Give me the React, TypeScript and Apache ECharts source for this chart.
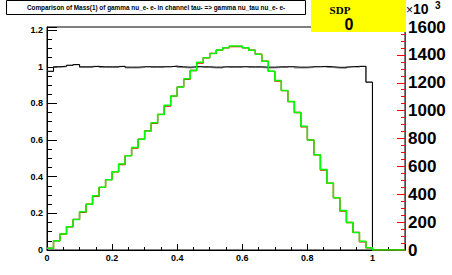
import React, { useEffect, useRef } from "react";
import * as echarts from "echarts";

// Histogram bin width and x range
const BIN_WIDTH = 0.02;
const X_MAX = 1.1;

// Ratio histogram (black) and its overlapping companion (gray), left axis units
const blackValues = [
  0.975, 1.0, 1.003, 1.008, 1.012, 1.0, 1.0, 1.002, 1.0, 1.0,
  1.0, 1.002, 0.998, 0.998, 1.0, 1.0, 1.0, 1.0, 1.0, 1.003,
  1.0, 0.998, 1.0, 1.0, 1.0, 0.998, 0.998, 1.0, 1.0, 1.0,
  1.0, 1.0, 1.0, 0.998, 0.998, 1.0, 1.0, 1.0, 0.998, 0.998,
  1.0, 1.0, 1.002, 1.0, 0.997, 0.997, 1.0, 1.002, 1.002, 0.916,
];
const grayValues = [
  0.975, 0.998, 1.0, 1.008, 1.012, 0.996, 0.996, 1.002, 0.996, 0.996,
  0.996, 1.002, 0.994, 0.994, 0.996, 1.0, 0.996, 0.996, 1.0, 1.003,
  0.996, 0.994, 0.996, 1.0, 0.996, 0.994, 0.994, 1.0, 0.996, 0.996,
  1.0, 0.996, 0.996, 0.994, 0.994, 0.996, 0.996, 1.0, 0.994, 0.994,
  0.996, 1.0, 1.0, 0.996, 0.993, 0.993, 1.0, 0.998, 1.002, 0.916,
];

// Mass distributions (scaled to left axis): green on top of red
const greenValues = [
  0.01, 0.05, 0.087, 0.127, 0.167, 0.209, 0.25, 0.296, 0.342, 0.384,
  0.427, 0.47, 0.515, 0.56, 0.605, 0.65, 0.695, 0.74, 0.79, 0.84,
  0.89, 0.935, 0.98, 1.024, 1.049, 1.073, 1.091, 1.104, 1.113, 1.112,
  1.104, 1.09, 1.068, 1.03, 0.975, 0.925, 0.87, 0.81, 0.75, 0.675,
  0.6, 0.52, 0.44, 0.364, 0.285, 0.215, 0.15, 0.096, 0.048, 0.012,
];
const redValues = [
  0.01, 0.05, 0.087, 0.127, 0.167, 0.206, 0.25, 0.293, 0.342, 0.384,
  0.427, 0.467, 0.515, 0.556, 0.605, 0.65, 0.692, 0.74, 0.786, 0.84,
  0.89, 0.932, 0.98, 1.02, 1.049, 1.073, 1.091, 1.104, 1.11, 1.112,
  1.104, 1.09, 1.068, 1.03, 0.975, 0.922, 0.87, 0.81, 0.75, 0.672,
  0.6, 0.52, 0.437, 0.364, 0.285, 0.212, 0.15, 0.096, 0.045, 0.012,
];

// Axis ticks
const leftMax = 1.217;
const leftInterval = 0.2;
const rightMax = 1600;
const rightInterval = 200;

const TITLE = "Comparison of Mass(1) of gamma nu_e- e- in channel tau- => gamma nu_tau nu_e- e-";
const BOX_LABEL = "SDP";
const BOX_VALUE = "0";

function histPoints(values: number[]): number[][] {
  const nBins = Math.round(X_MAX / BIN_WIDTH);
  const pts: number[][] = [];
  for (let i = 0; i < nBins; i++) {
    const v = i < values.length ? values[i] : 0;
    const x0 = +(i * BIN_WIDTH).toFixed(4);
    const x1 = +((i + 1) * BIN_WIDTH).toFixed(4);
    pts.push([x0, v], [x1, v]);
  }
  return pts;
}

const FONT = "Liberation Sans, Arial, Helvetica, sans-serif";

const fmtTenth = (v: number) => {
  const r = Math.round(v / 0.2);
  if (Math.abs(v - r * 0.2) > 1e-6) return "";
  return String(+v.toFixed(1));
};

export default function App() {
  const ref = useRef<HTMLDivElement>(null);
  useEffect(() => {
    if (!ref.current) return;
    const chart = echarts.init(ref.current, undefined, { renderer: "svg" });
    const lineSeries = (name: string, vals: number[], color: string, width: number, z: number) => ({
      name,
      type: "line",
      data: histPoints(vals),
      showSymbol: false,
      symbol: "none",
      lineStyle: { color, width },
      z,
      silent: true,
    });
    chart.setOption({
      animation: false,
      backgroundColor: "#ffffff",
      grid: {
        left: 47,
        right: 47,
        top: 27,
        bottom: 25,
        show: true,
        borderColor: "#000",
        borderWidth: 1,
        backgroundColor: "transparent",
      },
      xAxis: {
        type: "value",
        min: 0,
        max: X_MAX,
        interval: 0.2,
        axisLine: { show: true, lineStyle: { color: "#000", width: 1 } },
        axisTick: { show: true, inside: true, length: 6, lineStyle: { color: "#000" } },
        minorTick: { show: true, splitNumber: 4, length: 3, lineStyle: { color: "#000" } },
        splitLine: { show: false },
        minorSplitLine: { show: false },
        axisLabel: {
          color: "#000",
          fontFamily: FONT,
          fontWeight: "bold",
          fontSize: 9,
          margin: 3,
          formatter: fmtTenth,
        },
      },
      yAxis: [
        {
          type: "value",
          min: 0,
          max: leftMax,
          interval: leftInterval,
          position: "left",
          axisLine: { show: true, lineStyle: { color: "#000" } },
          axisTick: { show: true, inside: true, length: 10, lineStyle: { color: "#000" } },
          minorTick: { show: true, splitNumber: 4, length: 5, lineStyle: { color: "#000" } },
          splitLine: { show: false },
          axisLabel: {
            color: "#000",
            fontFamily: FONT,
            fontWeight: "bold",
            fontSize: 9,
            margin: 4,
            formatter: fmtTenth,
          },
        },
        {
          type: "value",
          min: 0,
          max: rightMax,
          interval: rightInterval,
          position: "right",
          alignTicks: false,
          axisLine: { show: true, lineStyle: { color: "#ff0000" } },
          axisTick: { show: true, inside: true, length: 8, lineStyle: { color: "#ff0000" } },
          minorTick: { show: true, splitNumber: 4, length: 4, lineStyle: { color: "#ff0000" } },
          splitLine: { show: false },
          axisLabel: {
            color: "#000",
            fontFamily: FONT,
            fontWeight: "bold",
            fontSize: 17,
            margin: 3,
            formatter: (v: number) => String(v),
          },
        },
      ],
      series: [
        lineSeries("gray", grayValues, "#8c8c8c", 1.2, 2),
        lineSeries("black", blackValues, "#000000", 1, 3),
        lineSeries("red", redValues, "#ff0000", 1.4, 4),
        lineSeries("green", greenValues, "#00ff00", 1.5, 5),
      ],
      graphic: [
        {
          type: "rect",
          shape: { x: 6.5, y: 0.5, width: 299, height: 14 },
          style: { fill: "#fff", stroke: "#000", lineWidth: 1 },
          z: 10,
        },
        {
          type: "text",
          x: 156,
          y: 7.5,
          style: {
            text: TITLE,
            fontFamily: FONT,
            fontWeight: "bold",
            fontSize: 6.4,
            fill: "#000",
            align: "center",
            verticalAlign: "middle",
          },
          z: 11,
        },
        {
          type: "rect",
          shape: { x: 311, y: 0, width: 95, height: 32 },
          style: { fill: "#ffff00", stroke: "none" },
          z: 10,
        },
        {
          type: "text",
          x: 340,
          y: 10,
          style: {
            text: BOX_LABEL,
            fontFamily: "Liberation Serif, Times New Roman, serif",
            fontWeight: "bold",
            fontSize: 11,
            fill: "#000",
            align: "center",
            verticalAlign: "middle",
          },
          z: 11,
        },
        {
          type: "text",
          x: 349,
          y: 24,
          style: {
            text: BOX_VALUE,
            fontFamily: FONT,
            fontWeight: "bold",
            fontSize: 16,
            fill: "#000",
            align: "center",
            verticalAlign: "middle",
          },
          z: 11,
        },
        {
          type: "text",
          x: 406,
          y: 10,
          style: {
            text: "×",
            fontFamily: FONT,
            fontSize: 12,
            fill: "#000",
            align: "left",
            verticalAlign: "middle",
          },
          z: 11,
        },
        {
          type: "text",
          x: 413,
          y: 9,
          style: {
            text: "10",
            fontFamily: FONT,
            fontWeight: "bold",
            fontSize: 14,
            fill: "#000",
            align: "left",
            verticalAlign: "middle",
          },
          z: 11,
        },
        {
          type: "text",
          x: 435,
          y: 5,
          style: {
            text: "3",
            fontFamily: FONT,
            fontWeight: "bold",
            fontSize: 10,
            fill: "#000",
            align: "left",
            verticalAlign: "middle",
          },
          z: 11,
        },
      ],
    });
    return () => chart.dispose();
  }, []);
  return (
    <div
      ref={ref}
      style={{ position: "fixed", left: 0, top: 0, width: 452, height: 275 }}
    />
  );
}
